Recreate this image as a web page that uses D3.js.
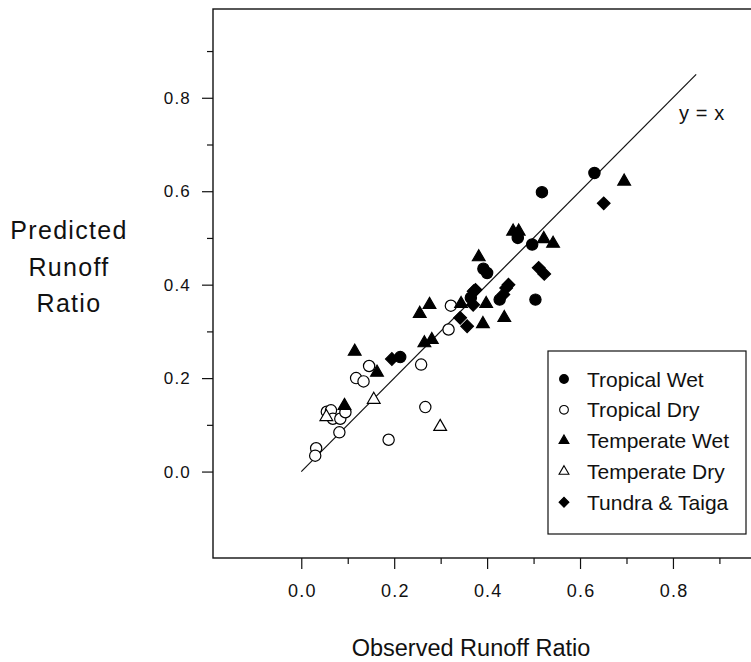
<!DOCTYPE html>
<html>
<head>
<meta charset="utf-8">
<script src="https://cdn.jsdelivr.net/npm/d3@7"></script>
<style>
  body { margin: 0; background: #fff; }
  text { font-family: "Liberation Sans", Arial, sans-serif; fill: #111; }
</style>
</head>
<body>
<script>
var width = 751, height = 662;
var margin = {top: 9, right: 0, bottom: 104, left: 213};

// observed / predicted runoff ratio, by biome
var tropicalWet = [
  [0.631, 0.639], [0.518, 0.598], [0.466, 0.500], [0.497, 0.486],
  [0.392, 0.434], [0.400, 0.425], [0.427, 0.368], [0.504, 0.368],
  [0.213, 0.245], [0.365, 0.372]
];
var tropicalDry = [
  [0.322, 0.355], [0.317, 0.304], [0.146, 0.226], [0.118, 0.200],
  [0.134, 0.193], [0.258, 0.229], [0.267, 0.138], [0.188, 0.068],
  [0.082, 0.084], [0.032, 0.050], [0.030, 0.034], [0.055, 0.128],
  [0.064, 0.131], [0.068, 0.113], [0.084, 0.113], [0.095, 0.127]
];
var temperateWet = [
  [0.115, 0.257], [0.163, 0.212], [0.093, 0.141], [0.255, 0.338],
  [0.276, 0.357], [0.265, 0.275], [0.281, 0.282], [0.344, 0.359],
  [0.391, 0.316], [0.398, 0.359], [0.437, 0.329], [0.382, 0.459],
  [0.456, 0.514], [0.468, 0.514], [0.522, 0.498], [0.542, 0.488],
  [0.695, 0.621]
];
var temperateDry = [
  [0.054, 0.117], [0.156, 0.154], [0.299, 0.096]
];
var tundraTaiga = [
  [0.651, 0.574], [0.511, 0.436], [0.523, 0.423], [0.446, 0.400],
  [0.441, 0.393], [0.435, 0.379], [0.375, 0.389], [0.371, 0.386],
  [0.370, 0.357], [0.342, 0.329], [0.357, 0.311], [0.195, 0.241]
];

var seriesNames = ['Tropical Wet', 'Tropical Dry', 'Temperate Wet', 'Temperate Dry', 'Tundra & Taiga'];
var seriesData = [tropicalWet, tropicalDry, temperateWet, temperateDry, tundraTaiga];
var majorTicks = [0.0, 0.2, 0.4, 0.6, 0.8];
var minorTicks = [0.1, 0.3, 0.5, 0.7, 0.9];
var lineEnd = 0.85;

var styles = [
  {type: d3.symbolCircle, size: 100, fill: '#000', rot: 0},
  {type: d3.symbolCircle, size: 100, fill: '#fff', rot: 0},
  {type: d3.symbolTriangle, size: 70, fill: '#000', rot: 0},
  {type: d3.symbolTriangle, size: 70, fill: '#fff', rot: 0},
  {type: d3.symbolSquare, size: 80, fill: '#000', rot: 45}
];

var svg = d3.select('body').append('svg')
            .attr('width', width)
            .attr('height', height);

var x = d3.scaleLinear().domain([-0.19, 0.968]).range([margin.left, width - margin.right]);
var y = d3.scaleLinear().domain([-0.185, 0.99]).range([height - margin.bottom, margin.top]);

// frame
svg.append('rect')
   .attr('x', margin.left).attr('y', margin.top)
   .attr('width', width + 5 - margin.left)
   .attr('height', height - margin.bottom - margin.top)
   .attr('fill', 'none').attr('stroke', '#111').attr('stroke-width', 1.4);

svg.append('g')
   .attr('class', 'xaxis')
   .attr('transform', `translate(0,${height - margin.bottom})`)
   .call(d3.axisBottom(x).tickValues(majorTicks).tickSize(11).tickPadding(15).tickFormat(d3.format('.1f')));
svg.append('g')
   .attr('transform', `translate(0,${height - margin.bottom})`)
   .call(d3.axisBottom(x).tickValues(minorTicks).tickSize(6).tickFormat(''));

svg.append('g')
   .attr('class', 'yaxis')
   .attr('transform', `translate(${margin.left},0)`)
   .call(d3.axisLeft(y).tickValues(majorTicks).tickSize(11).tickPadding(11).tickFormat(d3.format('.1f')));
svg.append('g')
   .attr('transform', `translate(${margin.left},0)`)
   .call(d3.axisLeft(y).tickValues(minorTicks).tickSize(6).tickFormat(''));

svg.selectAll('.domain').remove();
svg.selectAll('.tick line').attr('stroke', '#111').attr('stroke-width', 1.2);
svg.selectAll('.tick text').style('font-size', '17px').style('letter-spacing', '1.2px').attr('fill', '#111');
svg.selectAll('.xaxis .tick text').style('font-size', '18px').attr('dx', '0.6px');

// 1:1 line
svg.append('line')
   .attr('x1', x(0)).attr('y1', y(0))
   .attr('x2', x(lineEnd)).attr('y2', y(lineEnd))
   .attr('stroke', '#111').attr('stroke-width', 1.2);
svg.append('text')
   .attr('x', 679).attr('y', 120)
   .style('font-size', '20px')
   .style('letter-spacing', '0.6px')
   .text('y = x');

// points
seriesData.forEach(function(data, i) {
  var s = styles[i];
  svg.append('g').selectAll('path')
     .data(data)
     .enter().append('path')
       .attr('d', d3.symbol().type(s.type).size(s.size))
       .attr('transform', d => `translate(${x(d[0])},${y(d[1])}) rotate(${s.rot})`)
       .attr('fill', s.fill)
       .attr('stroke', '#000')
       .attr('stroke-width', 1.2);
});

// legend
var legend = svg.append('g').attr('transform', 'translate(548,351)');
legend.append('rect')
      .attr('width', 198).attr('height', 183)
      .attr('fill', '#fff').attr('stroke', '#111').attr('stroke-width', 1.2);
seriesNames.forEach(function(name, i) {
  var s = styles[i];
  var row = legend.append('g').attr('transform', `translate(0,${28 + i * 30.8})`);
  row.append('path')
     .attr('d', d3.symbol().type(s.type).size(s.size * 0.6))
     .attr('transform', `translate(16,0) rotate(${s.rot})`)
     .attr('fill', s.fill).attr('stroke', '#000').attr('stroke-width', 1.1);
  row.append('text')
     .attr('x', 39).attr('y', 7.5)
     .style('font-size', '21px')
     .text(name);
});

// axis titles
var yTitle = svg.append('text')
   .attr('text-anchor', 'middle')
   .style('font-size', '25px')
   .style('letter-spacing', '1.3px');
['Predicted', 'Runoff', 'Ratio'].forEach(function(t, i) {
  yTitle.append('tspan').attr('x', 69).attr('y', 239 + i * 36.7).text(t);
});

svg.append('text')
   .attr('x', 471).attr('y', 656)
   .attr('text-anchor', 'middle')
   .style('font-size', '23.5px')
   .text('Observed Runoff Ratio');
</script>
</body>
</html>
